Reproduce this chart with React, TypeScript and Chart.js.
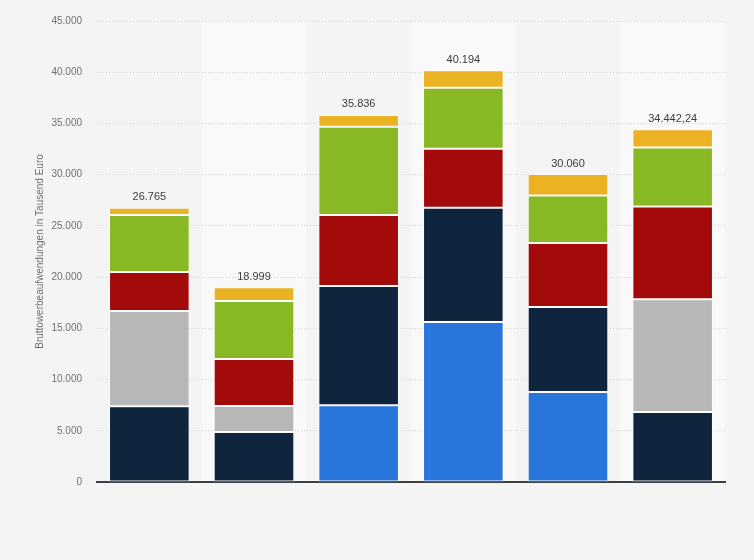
import React, { useEffect, useRef } from "react";
import { Chart, registerables } from "chart.js";

Chart.register(...registerables);

const categories = ["1", "2", "3", "4", "5", "6"];
const seriesBlue = [0, 0, 7490, 15620, 8790, 0];
const seriesNavy = [7400, 4880, 11650, 11140, 8300, 6840];
const seriesGray = [9300, 2540, 0, 0, 0, 11000];
const seriesRed = [3800, 4580, 6930, 5760, 6250, 9050];
const seriesGreen = [5570, 5680, 8600, 5960, 4620, 5760];
const seriesYellow = [695, 1319, 1166, 1714, 2100, 1792.24];
const totalLabels = ["26.765", "18.999", "35.836", "40.194", "30.060", "34.442,24"];
const yTicks = [0, 5000, 10000, 15000, 20000, 25000, 30000, 35000, 40000, 45000];
const yTitle = "Bruttowerbeaufwendungen in Tausend Euro";

const FONT = "'Liberation Sans', Arial, Helvetica, sans-serif";

const bandsPlugin = {
  id: "bands",
  beforeDraw(chart: any) {
    const { ctx, width, height, chartArea, scales } = chart;
    ctx.save();
    ctx.fillStyle = "#f4f4f4";
    ctx.fillRect(0, 0, width, height);
    const x = scales.x;
    ctx.fillStyle = "#f9f9f9";
    const half = (x.getPixelForValue(1) - x.getPixelForValue(0)) / 2;
    categories.forEach((_, i) => {
      if (i % 2 === 1) {
        const c = x.getPixelForValue(i);
        ctx.fillRect(c - half, chartArea.top, half * 2, chartArea.bottom - chartArea.top);
      }
    });
    ctx.restore();
  },
};

const totalsPlugin = {
  id: "totals",
  afterDatasetsDraw(chart: any) {
    const { ctx, scales } = chart;
    ctx.save();
    ctx.font = `11px ${FONT}`;
    ctx.fillStyle = "#3c3c3c";
    ctx.textAlign = "center";
    ctx.textBaseline = "bottom";
    categories.forEach((_, i) => {
      const total =
        seriesBlue[i] + seriesNavy[i] + seriesGray[i] + seriesRed[i] + seriesGreen[i] + seriesYellow[i];
      const px = scales.x.getPixelForValue(i);
      const py = scales.y.getPixelForValue(total);
      ctx.fillText(totalLabels[i], px, py - 5);
    });
    ctx.restore();
  },
};

export default function App() {
  const ref = useRef<HTMLCanvasElement | null>(null);

  useEffect(() => {
    if (!ref.current) return;
    const mk = (label: string, data: number[], color: string) => ({
      label,
      data,
      backgroundColor: color,
      borderColor: "rgba(255,255,255,0.75)",
      borderWidth: 1,
      borderSkipped: false,
      categoryPercentage: 1,
      barPercentage: 0.77,
    });
    const chart = new Chart(ref.current, {
      type: "bar",
      data: {
        labels: categories,
        datasets: [
          mk("Serie 1", seriesBlue, "#2876dc"),
          mk("Serie 2", seriesNavy, "#0f253d"),
          mk("Serie 3", seriesGray, "#b7b7b7"),
          mk("Serie 4", seriesRed, "#a30a0a"),
          mk("Serie 5", seriesGreen, "#88b824"),
          mk("Serie 6", seriesYellow, "#ebb224"),
        ],
      },
      options: {
        animation: false,
        responsive: false,
        maintainAspectRatio: false,
        layout: { padding: { top: 20, right: 29, bottom: 78, left: 0 } },
        plugins: {
          legend: { display: false },
          tooltip: { enabled: false },
          title: { display: false },
        },
        scales: {
          x: {
            stacked: true,
            ticks: { display: false },
            grid: { display: false, drawTicks: false },
            border: { display: true, color: "#3a3f44", width: 2 },
          },
          y: {
            stacked: true,
            min: 0,
            max: 45000,
            afterFit: (s: any) => {
              s.width = 97;
            },
            afterBuildTicks: (s: any) => {
              s.ticks = yTicks.map((v) => ({ value: v }));
            },
            ticks: {
              padding: 15,
              color: "#707070",
              font: { family: FONT, size: 10 },
              callback: (v: any) => (v === 0 ? "0" : Number(v).toLocaleString("de-DE")),
            },
            grid: {
              color: (c: any) => (c.tick && c.tick.value === 0 ? "rgba(0,0,0,0)" : "#d2d2d2"),
              drawTicks: false,
            },
            border: { display: false, dash: [1, 2] },
            title: {
              display: true,
              text: yTitle,
              color: "#707070",
              font: { family: FONT, size: 10 },
              padding: { top: 34, bottom: 0 },
            },
          },
        },
      },
      plugins: [bandsPlugin, totalsPlugin],
    });
    return () => chart.destroy();
  }, []);

  return (
    <div style={{ position: "fixed", left: 0, top: 0, width: 754, height: 560, background: "#f4f4f4" }}>
      <canvas ref={ref} width={754} height={560} style={{ width: 754, height: 560, display: "block" }} />
    </div>
  );
}
